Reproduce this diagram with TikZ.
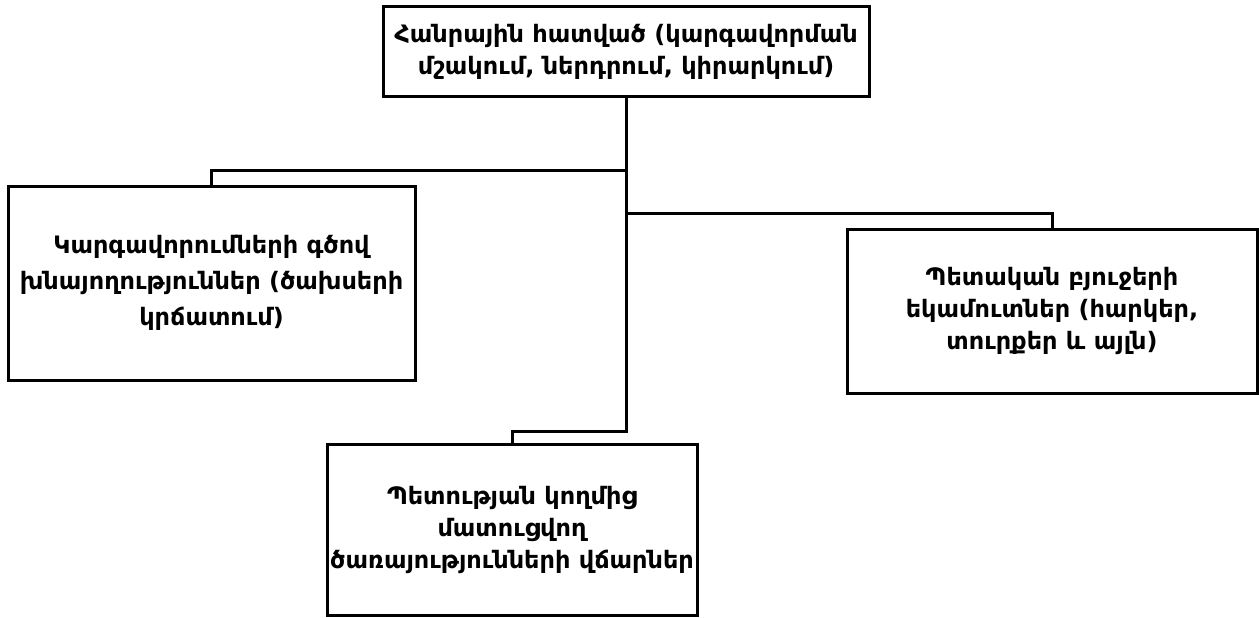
\documentclass[tikz,border=0pt]{standalone}
\usepackage{fontspec}
\setmainfont{DejaVu Sans}
\begin{document}
\begin{tikzpicture}[x=1pt,y=-1pt,
  box/.style={draw=black,line width=3pt,fill=white,inner sep=0pt,align=center,
    font=\bfseries\fontsize{24}{32}\selectfont},
  link/.style={draw=black,line width=3pt}]
\useasboundingbox (0,0) rectangle (1259,618);
\node[box,minimum width=486pt,minimum height=90pt] (top) at (626,52)
  {Հանրային հատված (կարգավորման\\մշակում, ներդրում, կիրարկում)};
\node[box,minimum width=407pt,minimum height=194pt,font=\bfseries\fontsize{24}{36}\selectfont] (left) at (211.5,283)
  {Կարգավորումների գծով\\խնայողություններ (ծախսերի\\կրճատում)};
\node[box,minimum width=410pt,minimum height=164pt] (right) at (1052,311)
  {Պետական բյուջերի\\եկամուտներ (հարկեր,\\տուրքեր և այլն)};
\node[box,minimum width=370pt,minimum height=171pt] (bottom) at (512,529.5)
  {Պետության կողմից\\մատուցվող\\ծառայությունների վճարներ};
\coordinate (j1) at (626,170);
\coordinate (j2) at (626,213);
\coordinate (j3) at (626,431);
\draw[link] (top.south) -- (j3) -| (bottom.north);
\draw[link] (j1) -| (left.north);
\draw[link] (j2) -| (right.north);
\end{tikzpicture}
\end{document}
